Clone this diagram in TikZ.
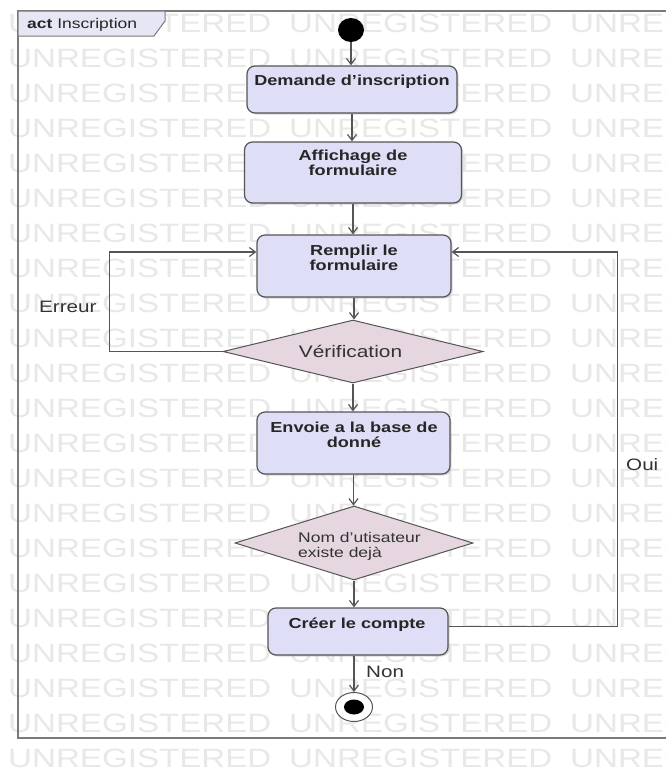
\documentclass[tikz,border=0pt]{standalone}
\usepackage{fontspec}
\setmainfont{Liberation Sans}[FakeStretch=1.25]
\usetikzlibrary{arrows.meta,shapes.geometric,shadows}
\definecolor{boxfill}{HTML}{DEDEF6}
\definecolor{diafill}{HTML}{E6D6E0}
\definecolor{tabfill}{HTML}{E6E6F5}
\definecolor{linec}{HTML}{555555}
\definecolor{framec}{HTML}{7A7A7A}
\definecolor{wmark}{HTML}{E8E8E8}
\begin{document}
\begin{tikzpicture}[x=1pt,y=-1pt,
  actbox/.style={draw=linec, line width=1.2pt, fill=boxfill, rounded corners=8pt, inner sep=0pt,
     drop shadow={shadow xshift=1.5pt,shadow yshift=-1.5pt,opacity=0.3}},
  decision/.style={diamond, draw=linec, line width=1pt, fill=diafill, inner sep=0pt},
  boxtext/.style={inner sep=0pt, font=\bfseries\fontsize{14.5}{14.5}\selectfont, text=black!85, align=center},
  flow/.style={draw=linec, line width=1.2pt, -{Straight Barb[length=6pt,width=9pt]}},
  lbl/.style={inner sep=0pt, font=\fontsize{16.5}{18}\selectfont, text=black!80},
  wm/.style={inner sep=0pt, anchor=base west, font=\fontsize{26.5}{28}\selectfont, text=wmark}
]
\useasboundingbox (0,0) rectangle (665,771);
\fill[white] (0,0) rectangle (665,771);
% watermark
\foreach \r in {0,...,21}{
  \foreach \c in {8,289,570}{
    \node[wm] (wm-\r-\c) at (\c, 32.5+35*\r) {UNREGISTERED};
  }
}
% frame and tab
\draw[framec, line width=1.5pt] (690,11) -- (18,11) -- (18,738) -- (690,738);
\draw[framec, line width=1pt, fill=tabfill] (18,11) -- (165,11) -- (165,21) -- (154,36) -- (18,36) -- cycle;
\node[anchor=base west, inner sep=0pt, font=\fontsize{14}{14}\selectfont, text=black!85] (tabT) at (27,28.5) {\textbf{act} Inscription};
% nodes
\node[ellipse, fill=black, minimum width=26, minimum height=24, inner sep=0pt] (init) at (351,30) {};
\node[actbox, minimum width=210, minimum height=47] (demande) at (352,89.5) {};
\node[actbox, minimum width=217, minimum height=61] (affich) at (353,172.5) {};
\node[actbox, minimum width=194, minimum height=62] (remplir) at (354,266) {};
\node[decision, minimum width=260, minimum height=63] (verif) at (353,351.5) {};
\node[actbox, minimum width=193, minimum height=62] (envoie) at (353.5,443) {};
\node[decision, minimum width=238, minimum height=74] (nom) at (354,543) {};
\node[actbox, minimum width=180, minimum height=47] (creer) at (358,631.5) {};
\node[ellipse, draw=linec, line width=1pt, fill=white, minimum width=37, minimum height=29, inner sep=0pt] (final) at (354,707) {};
\node[ellipse, fill=black, minimum width=20, minimum height=15, inner sep=0pt] (finalIn) at (final.center) {};
% texts
\node[boxtext, anchor=base] (demandeT) at (352,85) {Demande d'inscription};
\node[boxtext, anchor=north] (affichT) at (353,150) {Affichage de\\formulaire};
\node[boxtext, anchor=north] (remplirT) at (354,245) {Remplir le\\formulaire};
\node[boxtext, anchor=north] (envoieT) at (354,422) {Envoie a la base de\\donné};
\node[boxtext, anchor=base] (creerT) at (357,628) {Créer le compte};
\node[lbl, anchor=base, font=\fontsize{16.7}{18}\selectfont] (verifT) at (350.5,357) {Vérification};
\node[anchor=north west, inner sep=0pt, align=left, font=\fontsize{14}{15}\selectfont, text=black!80] (nomT) at (298,532) {Nom d'utisateur\\existe dejà};
\node[lbl, anchor=base west] (erreur) at (39,312) {Erreur};
\node[lbl, anchor=base west] (oui) at (626,470) {Oui};
\node[lbl, anchor=base west] (non) at (366,677) {Non};
% connectors
\draw[flow] (init) -- (init |- demande.north);
\draw[flow] (demande.south) -- (demande.south |- affich.north);
\draw[flow] (affich.south) -- (affich.south |- remplir.north);
\draw[flow] (remplir.south) -- (remplir.south |- verif.north);
\draw[flow] (verif.south) -- (verif.south |- envoie.north);
\draw[flow] (envoie.south) -- (envoie.south |- nom.north);
\draw[flow] (nom.south) -- (nom.south |- creer.north);
\draw[flow] (final |- creer.south) -- (final);
\draw[flow] (verif.west) -- ++(-113,0) |- ([yshift=14pt]remplir.west);
\draw[flow] ([yshift=5pt]creer.east) -- ++(169,0) |- ([yshift=14pt]remplir.east);
\end{tikzpicture}
\end{document}
